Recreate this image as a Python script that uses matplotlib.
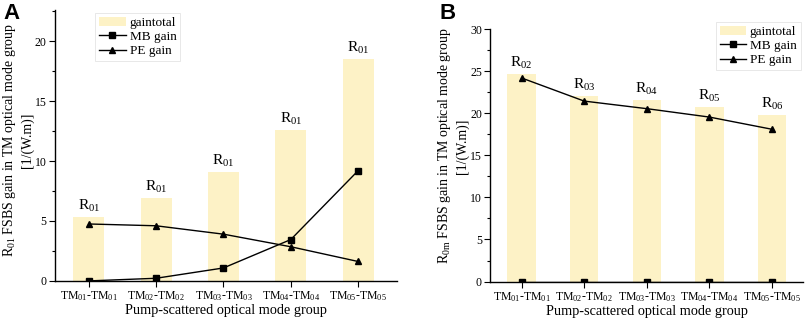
import matplotlib
matplotlib.use("Agg")
import matplotlib.pyplot as plt
from matplotlib.ticker import MultipleLocator
import numpy as np

plt.rcParams['font.family'] = ['Liberation Serif', 'DejaVu Serif']
plt.rcParams['mathtext.fontset'] = 'custom'
plt.rcParams['mathtext.rm'] = 'Liberation Serif'
plt.rcParams['mathtext.it'] = 'Liberation Serif:italic'

categories = ['TM$_{01}$-TM$_{01}$', 'TM$_{02}$-TM$_{02}$', 'TM$_{03}$-TM$_{03}$',
              'TM$_{04}$-TM$_{04}$', 'TM$_{05}$-TM$_{05}$']

# Panel A
a_total = [5.3, 6.9, 9.05, 12.6, 18.5]
a_mb = [0.0, 0.22, 1.08, 3.45, 9.2]
a_pe = [4.75, 4.6, 3.9, 2.85, 1.62]
a_labels = ['R$_{01}$'] * 5

# Panel B
b_total = [24.7, 22.1, 21.6, 20.8, 19.8]
b_mb = [0.0, 0.0, 0.0, 0.0, 0.0]
b_pe = [24.2, 21.45, 20.55, 19.55, 18.1]
b_labels = ['R$_{02}$', 'R$_{03}$', 'R$_{04}$', 'R$_{05}$', 'R$_{06}$']

bar_color = '#fdf2c6'

fig = plt.figure(figsize=(8.09, 3.24), dpi=100)
axA = fig.add_axes([0.068, 0.133, 0.423, 0.836])
axB = fig.add_axes([0.606, 0.131, 0.387, 0.779])

def draw(ax, total, mb, pe, labels, ylim, width, xlim, ylabel, lab_xy, legloc):
    x = np.arange(len(categories))
    hb = ax.bar(x, total, width=width, color=bar_color, label='gaintotal', zorder=1)
    hm, = ax.plot(x, mb, color='black', lw=1, marker='s', ms=4.5, label='MB gain', zorder=3)
    hp, = ax.plot(x, pe, color='black', lw=1, marker='^', ms=5, label='PE gain', zorder=3)
    for xi, t, lab in zip(x, total, labels):
        ax.text(xi, t + ylim[1] * 0.012, lab, ha='center', va='bottom', fontsize=11)
    ax.set_xlim(*xlim)
    ax.set_ylim(*ylim)
    ax.set_xticks(x)
    ax.set_xticklabels(categories, fontsize=8.5)
    ax.yaxis.set_major_locator(MultipleLocator(5))
    ax.yaxis.set_minor_locator(MultipleLocator(2.5))
    ax.tick_params(axis='y', labelsize=8.5, length=4, width=0.8, direction='out', pad=2)
    ax.tick_params(axis='y', which='minor', length=2.5, width=0.8)
    ax.tick_params(axis='x', length=4, width=0.8, direction='out', pad=2)
    for s in ['top', 'right']:
        ax.spines[s].set_visible(False)
    for s in ['left', 'bottom']:
        ax.spines[s].set_linewidth(1.0)
    ax.set_xlabel('Pump-scattered optical mode group', fontsize=10.3, labelpad=1)
    ax.set_ylabel(ylabel, fontsize=10, linespacing=1.3)
    ax.yaxis.set_label_coords(*lab_xy)
    leg = ax.legend([hb, hm, hp], ['gaintotal', 'MB gain', 'PE gain'], **legloc,
                    fontsize=9.5, frameon=True, fancybox=False,
                    edgecolor='#dddddd', handlelength=2.0, borderpad=0.3,
                    labelspacing=0.15, handletextpad=0.3, borderaxespad=0.2)
    leg.get_frame().set_linewidth(0.6)

draw(axA, a_total, a_mb, a_pe, a_labels, (0, 22.6), 0.46, (-0.5, 4.58),
     'R$_{01}$ FSBS gain in TM optical mode group\n[1/(W.m)]', (-0.061, 0.52),
     dict(loc='upper left', bbox_to_anchor=(0.11, 1.0)))
draw(axB, b_total, b_mb, b_pe, b_labels, (0, 30), 0.45, (-0.5, 4.5),
     'R$_{\\mathrm{0m}}$ FSBS gain in TM optical mode group\n[1/(W.m)]', (-0.067, 0.537),
     dict(loc='upper right', bbox_to_anchor=(1.0, 1.04)))

fig.text(0.004, 0.99, 'A', fontsize=16, fontweight='bold', family='Liberation Sans', va='top', ha='left')
fig.text(0.543, 0.99, 'B', fontsize=16, fontweight='bold', family='Liberation Sans', va='top', ha='left')

fig.savefig('out.png', dpi=100)
